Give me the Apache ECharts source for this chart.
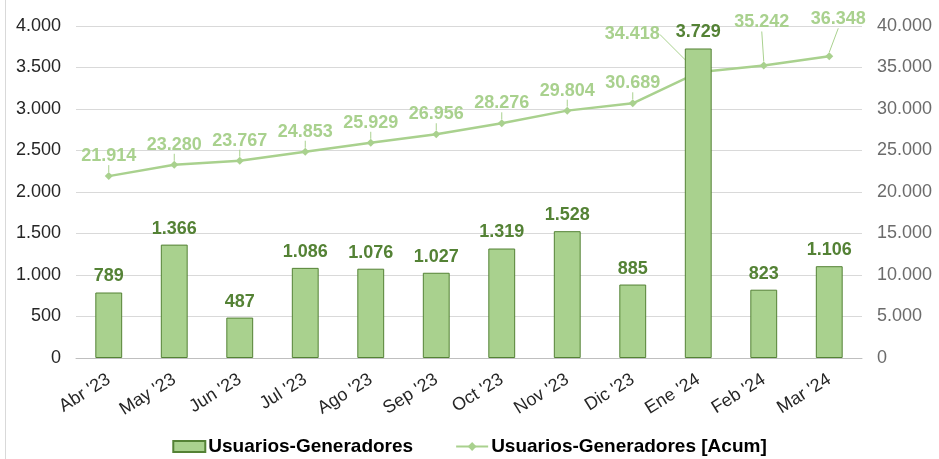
<!DOCTYPE html>
<html><head><meta charset="utf-8">
<script src="https://cdn.jsdelivr.net/npm/echarts@6/dist/echarts.min.js"></script>
<style>html,body{margin:0;padding:0;background:#fff}#c{width:939px;height:459px}</style>
</head><body><div id="c"></div>
<script>
const categories = ["Abr '23","May '23","Jun '23","Jul '23","Ago '23","Sep '23","Oct '23","Nov '23","Dic '23","Ene '24","Feb '24","Mar '24"];
const monthly = [789,1366,487,1086,1076,1027,1319,1528,885,3729,823,1106];
const cumulative = [21914,23280,23767,24853,25929,26956,28276,29804,30689,34418,35242,36348];
const leftTicks = [0,500,1000,1500,2000,2500,3000,3500,4000];
const rightTicks = [0,5000,10000,15000,20000,25000,30000,35000,40000];

const fmt = v => String(Math.round(v)).replace(/\B(?=(\d{3})+(?!\d))/g, '.');
const FONT = 'Liberation Sans, Arial, sans-serif';
const moved = {9:{dx:-66,dy:-18}, 10:{dx:-2,dy:-23}, 11:{dx:9,dy:-17}};

const chart = echarts.init(document.getElementById('c'));
chart.setOption({
  animation:false,
  textStyle:{fontFamily:FONT},
  graphic:[{type:'line',shape:{x1:5.5,y1:0,x2:5.5,y2:459},style:{stroke:'#d9d9d9',lineWidth:1}}],
  grid:{left:76,right:77,top:26,bottom:101},
  legend:{
    bottom:-2,left:'center',itemGap:42,itemWidth:32,itemHeight:11,
    textStyle:{fontFamily:FONT,fontSize:19,fontWeight:'bold',color:'#000',padding:[0,0,0,-2]},
    data:[{name:'Usuarios-Generadores',icon:'rect'},{name:'Usuarios-Generadores [Acum]'}]
  },
  xAxis:{
    type:'category',data:categories,
    axisLine:{lineStyle:{color:'#bfbfbf'}},axisTick:{show:false},
    axisLabel:{rotate:32,fontSize:18,color:'#262626',fontFamily:FONT,margin:20}
  },
  yAxis:[
    {type:'value',min:leftTicks[0],max:leftTicks[leftTicks.length-1],interval:500,
     axisLabel:{formatter:fmt,fontSize:18,color:'#262626',fontFamily:FONT,margin:15},
     splitLine:{lineStyle:{color:'#d9d9d9'}},axisLine:{show:false},axisTick:{show:false}},
    {type:'value',min:rightTicks[0],max:rightTicks[rightTicks.length-1],interval:5000,
     axisLabel:{formatter:fmt,fontSize:18,color:'#6b6b6b',fontFamily:FONT,margin:15},
     splitLine:{show:false},axisLine:{show:false},axisTick:{show:false}}
  ],
  series:[
    {name:'Usuarios-Generadores',type:'bar',data:monthly,yAxisIndex:0,barWidth:'41%',z:3,
     itemStyle:{color:'#a9d18e',borderColor:'#548235',borderWidth:1},
     label:{show:true,position:'top',distance:7,formatter:p=>fmt(p.value),
       fontSize:18,fontWeight:'bold',color:'#548235',fontFamily:FONT}},
    {name:'Usuarios-Generadores [Acum]',type:'line',data:cumulative,yAxisIndex:1,z:2,
     symbol:'diamond',symbolSize:8,
     lineStyle:{color:'#a9d18e',width:2.5},itemStyle:{color:'#a9d18e'},
     label:{show:true,position:'top',distance:7,formatter:p=>fmt(p.value),
       fontSize:18,fontWeight:'bold',color:'#a9d18e',fontFamily:FONT},
     labelLine:{show:true,lineStyle:{color:'#a9d18e',width:1}},
     labelLayout:function(p){const m=moved[p.dataIndex];return m?{dx:m.dx,dy:m.dy}:{};}}
  ]
});
</script></body></html>
